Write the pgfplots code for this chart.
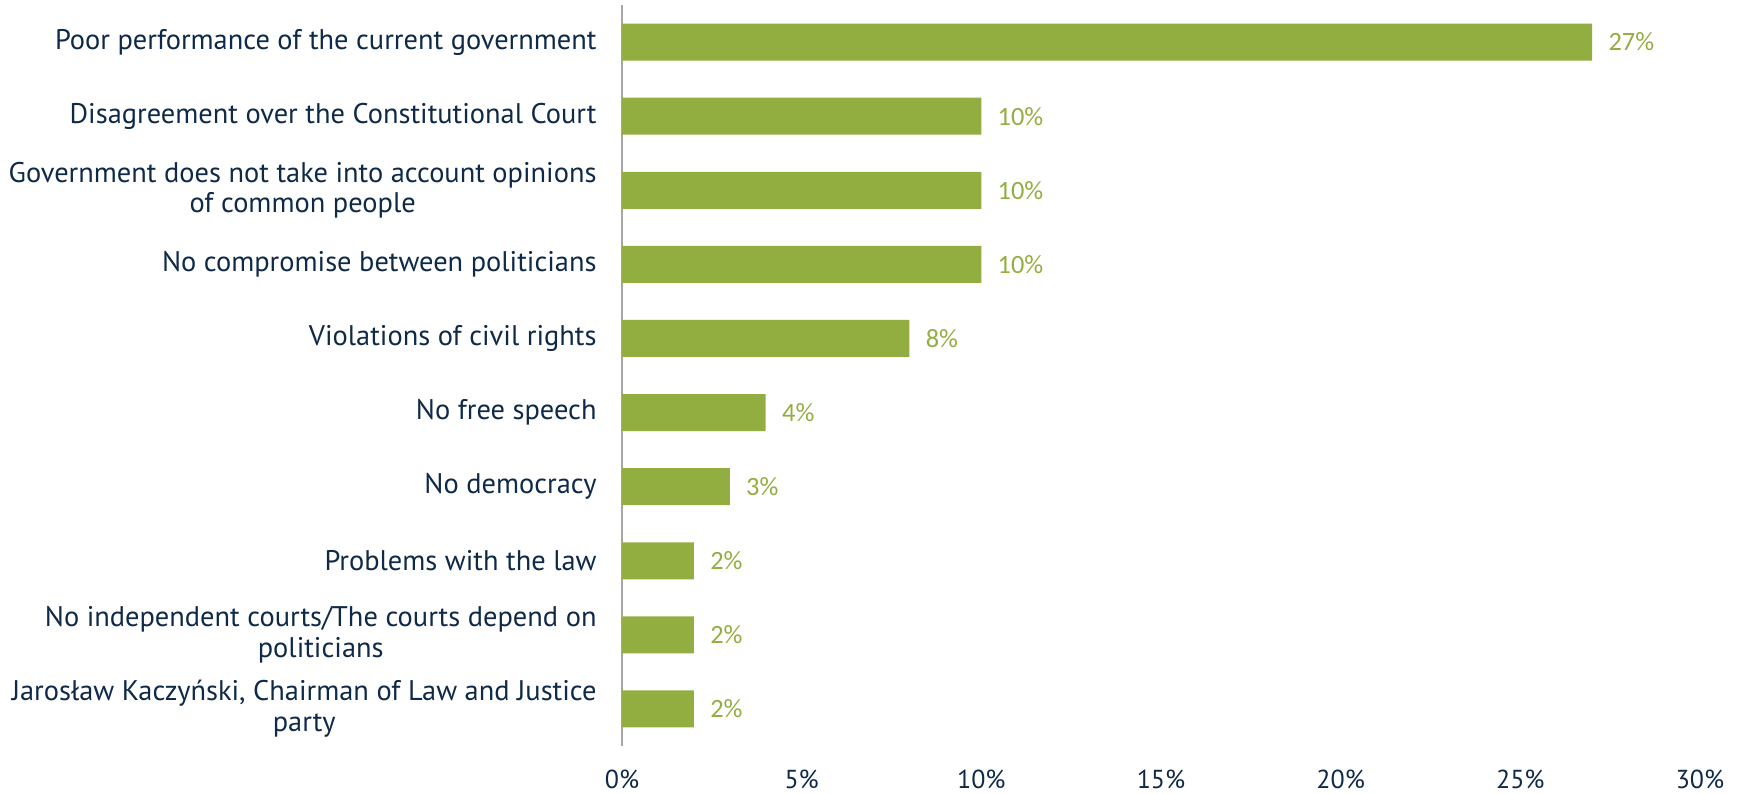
\documentclass[border=0pt]{standalone}
\usepackage{pgfplots}
\pgfplotsset{compat=1.18}
\usepackage{fontspec}
\setmainfont{PT Sans}
\newfontfamily\valfont{Carlito}
\definecolor{barg}{HTML}{93AE40}
\definecolor{navy}{HTML}{0F2A48}
\definecolor{axgray}{HTML}{A6A6A6}
\begin{document}
\begin{tikzpicture}
\begin{axis}[
  scale only axis,
  width=539pt, height=370.5pt,
  xmin=0, xmax=30,
  ymin=-0.5, ymax=9.5,
  y dir=reverse,
  xbar, bar width=18.5pt,
  axis lines*=left,
  x axis line style={draw=none},
  y axis line style={axgray, line width=0.8pt},
  ytick={0,...,9},
  yticklabels={
    {Poor performance of the current government},
    {Disagreement over the Constitutional Court},
    {Government does not take into account opinions\\of common people},
    {No compromise between politicians},
    {Violations of civil rights},
    {No free speech},
    {No democracy},
    {Problems with the law},
    {No independent courts/The courts depend on\\politicians},
    {Jarosław Kaczyński, Chairman of Law and Justice\\party}},
  yticklabel style={font=\fontsize{14.2}{15.3}\selectfont, text=navy, align=center, anchor=east, inner sep=0pt, xshift=-12.5pt},
  xtick={0,5,...,30},
  xticklabels={0\%,5\%,10\%,15\%,20\%,25\%,30\%},
  xticklabel style={font=\fontsize{13}{15}\selectfont, text=navy, anchor=center, inner sep=0pt, yshift=-16.5pt},
  major tick length=0pt,
  nodes near coords={\pgfmathprintnumber[assume math mode=true]{\pgfplotspointmeta}\%},
  nodes near coords style={font=\valfont\fontsize{13.2}{15}\selectfont, text=barg, anchor=west, inner sep=0pt, xshift=8pt},
  point meta=x,
]
\addplot[fill=barg, draw=none] coordinates {
  (27,0) (10,1) (10,2) (10,3) (8,4) (4,5) (3,6) (2,7) (2,8) (2,9)};
\end{axis}
\pgfresetboundingbox
\path (-311pt,-23.5pt) rectangle (559.5pt,373pt);
\end{tikzpicture}
\end{document}
